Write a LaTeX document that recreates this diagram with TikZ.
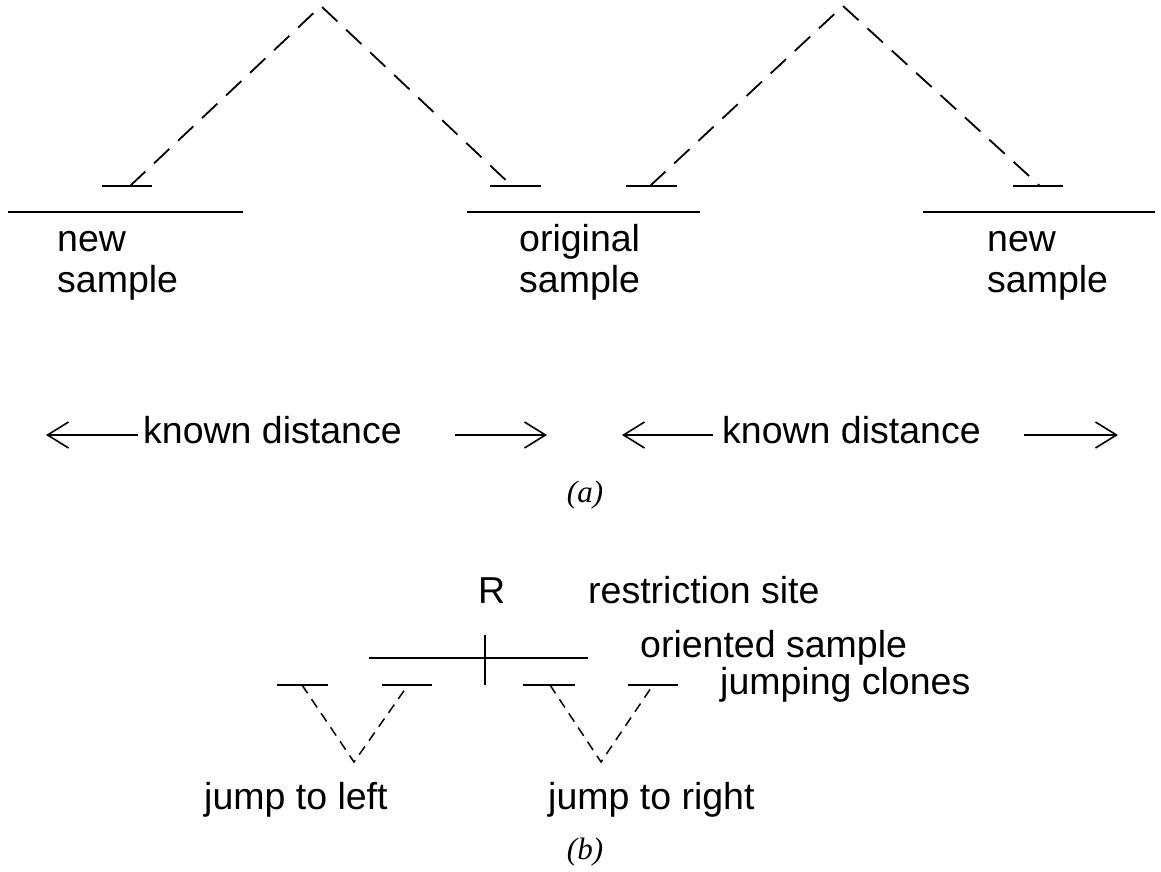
\documentclass[tikz,border=0pt]{standalone}
\usepackage{fontspec}
\setmainfont{Liberation Sans}
\newfontfamily\capfont{Liberation Serif}
\usetikzlibrary{arrows.meta}
\tikzset{
  solidline/.style={line width=1.8pt},
  dashA/.style={line width=1.8pt, dash pattern=on 21pt off 12pt},
  dashB/.style={line width=1.5pt, dash pattern=on 10pt off 7pt},
  lbl/.style={inner sep=0pt, anchor=base west, font=\fontsize{37.5}{41}\selectfont, align=left},
  captext/.style={inner sep=0pt, anchor=base, font=\capfont\itshape\fontsize{31}{33}\selectfont},
  dist/.style={line width=1.6pt},
  arrowtip/.style={-{Straight Barb[length=21pt,width=26pt,line width=1.6pt]}}
}
\begin{document}
\begin{tikzpicture}[x=1pt,y=-1pt]
\useasboundingbox (0,0) rectangle (1161,872);
% ---------- part (a) ----------
\coordinate (apexL) at (321,6);
\coordinate (footLL) at (130,186);
\coordinate (footLR) at (512,186);
\coordinate (apexR) at (843,6);
\coordinate (footRL) at (650,186);
\coordinate (footRR) at (1040,186);
\draw[dashA] (footLL) -- (apexL) -- (footLR);
\draw[dashA] (footRL) -- (apexR) -- (footRR);
\draw[solidline] (102,186) -- (152,186);
\draw[solidline] (490,186) -- (541,186);
\draw[solidline] (626,186) -- (677,186);
\draw[solidline] (1013,186) -- (1063,186);
\draw[solidline] (8,212) -- (243,212);
\draw[solidline] (467,212) -- (700,212);
\draw[solidline] (923,212) -- (1155,212);
\node[lbl] (newL) at (57,292) {new\\sample};
\node[lbl] (orig) at (519,292) {original\\sample};
\node[lbl] (newR) at (987,292) {new\\sample};
% known distance
\node[lbl] (kd1) at (143,443) {known distance};
\node[lbl] (kd2) at (722,443) {known distance};
\coordinate (a1l) at (46,435);
\coordinate (a1m) at (455,435);
\coordinate (a1r) at (547,435);
\coordinate (a2l) at (622,435);
\coordinate (a2m) at (1024,435);
\coordinate (a2r) at (1118,435);
\draw[dist,arrowtip] ([xshift=-5pt]kd1.west |- a1l) -- (a1l);
\draw[dist,arrowtip] (a1m) -- (a1r);
\draw[dist,arrowtip] ([xshift=-9pt]kd2.west |- a2l) -- (a2l);
\draw[dist,arrowtip] (a2m) -- (a2r);
\node[captext] (capa) at (585,502) {(a)};
% ---------- part (b) ----------
\node[lbl] (R) at (478,603) {R};
\node[lbl] (rsite) at (588,603) {restriction site};
\node[lbl] (osample) at (640,657) {oriented sample};
\node[lbl] (jclones) at (720,694) {jumping clones};
\draw[solidline] (369,658) -- (588,658);
\draw[solidline] (485,635) -- (485,685);
\draw[solidline] (277,685) -- (328,685);
\draw[solidline] (382,685) -- (432,685);
\draw[solidline] (523,685) -- (575,685);
\draw[solidline] (628,685) -- (678,685);
\coordinate (vL1) at (302,685);
\coordinate (vLb) at (354,762);
\coordinate (vL2) at (408,685);
\coordinate (vR1) at (550,685);
\coordinate (vRb) at (601,762);
\coordinate (vR2) at (653,685);
\draw[dashB] (vL1) -- (vLb) -- (vL2);
\draw[dashB] (vR1) -- (vRb) -- (vR2);
\node[lbl] (jl) at (204,809) {jump to left};
\node[lbl] (jr) at (548,809) {jump to right};
\node[captext] (capb) at (585,859) {(b)};
\end{tikzpicture}
\end{document}
